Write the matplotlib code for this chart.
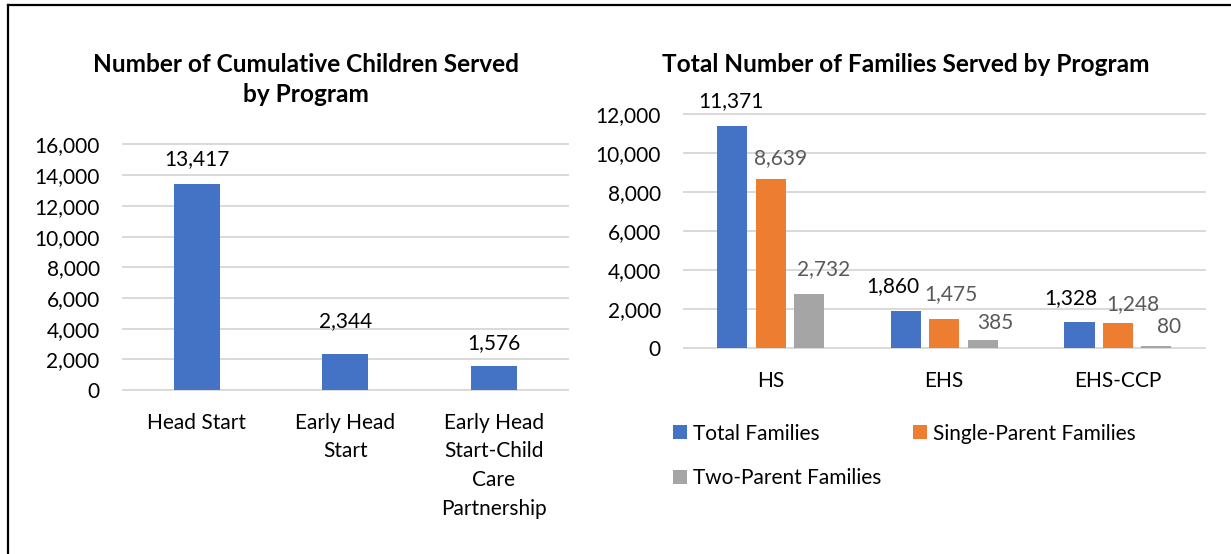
import matplotlib
matplotlib.use("Agg")
import matplotlib.pyplot as plt
import matplotlib.patches as mpatches
from matplotlib.lines import Line2D
from matplotlib.ticker import FuncFormatter
import numpy as np

plt.rcParams['font.family'] = ['Lato', 'DejaVu Sans']

# ---------------- data ----------------
children_categories = ['Head Start', 'Early Head\nStart', 'Early Head\nStart-Child\nCare\nPartnership']
children_values = [13417, 2344, 1576]
children_yticks = [0, 2000, 4000, 6000, 8000, 10000, 12000, 14000, 16000]

family_categories = ['HS', 'EHS', 'EHS-CCP']
total_families = [11371, 1860, 1328]
single_parent_families = [8639, 1475, 1248]
two_parent_families = [2732, 385, 80]
family_series_names = ['Total Families', 'Single-Parent Families', 'Two-Parent Families']
family_yticks = [0, 2000, 4000, 6000, 8000, 10000, 12000]

left_title = 'Number of Cumulative Children Served\nby Program'
right_title = 'Total Number of Families Served by Program'

# ---------------- style ----------------
W, H = 1231, 554
BLUE, ORANGE, GRAY = '#4472C4', '#ED7D31', '#A5A5A5'
GRID = '#D9D9D9'
DARK = '#000000'
LABEL_GRAY = '#595959'
FS = 15
TFS = 17.6
PX = 0.72  # points per pixel

fig = plt.figure(figsize=(W / 100, H / 100), dpi=100)
fig.patch.set_facecolor('white')

def fx(px):
    return px / W

def fy(py):
    return 1 - py / H

fmt = FuncFormatter(lambda v, p: f'{int(v):,}')

def style_axes(ax, yticks, xpad):
    ax.set_ylim(yticks[0], yticks[-1])
    ax.set_yticks(yticks)
    ax.yaxis.set_major_formatter(fmt)
    ax.grid(axis='y', color=GRID, linewidth=1.4)
    ax.set_axisbelow(True)
    for s in ax.spines.values():
        s.set_visible(False)
    ax.tick_params(axis='y', length=0, pad=16.5, labelsize=FS, labelcolor=DARK)
    ax.tick_params(axis='x', length=0, pad=xpad, labelsize=FS, labelcolor=DARK)
    for gl in ax.get_ygridlines():
        gl.set_clip_on(False)
    for lab in ax.get_xticklabels():
        lab.set_linespacing(1.54)

# ---------------- left chart ----------------
axL = fig.add_axes([fx(122.6), fy(390.1), (568.2 - 122.6) / W, (390.1 - 144.5) / H])
xl = np.arange(len(children_categories))
axL.bar(xl, children_values, width=0.31, color=BLUE)
axL.set_xlim(-0.5, len(children_categories) - 0.5)
axL.set_xticks(xl, labels=children_categories)
style_axes(axL, children_yticks, 16.2)
left_label_dy = [25, 33, 23]
for xi, v, dy in zip(xl, children_values, left_label_dy):
    axL.annotate(f'{v:,}', xy=(xi, v), xytext=(0, dy * PX), textcoords='offset points',
                 ha='center', va='center', fontsize=FS, color=DARK, annotation_clip=False)

fig.text(fx(306), fy(79.5), left_title, ha='center', va='center', fontsize=TFS,
         fontweight='bold', color=DARK, linespacing=1.4)

# ---------------- right chart ----------------
axR = fig.add_axes([fx(683.8), fy(347.7), (1204.7 - 683.8) / W, (347.7 - 114) / H])
xr = np.arange(len(family_categories))
series = [total_families, single_parent_families, two_parent_families]
colors = [BLUE, ORANGE, GRAY]
label_colors = [DARK, LABEL_GRAY, LABEL_GRAY]
offsets = [-0.221, 0.0, 0.221]
label_dx = [[-1, -12.6, -8.5], [10, 7, 15], [15, 13, 13]]
label_dy = [[25, 25, 24], [21, 25, 19], [25.6, 17, 19]]
handles = []
for vals, c, lc, off, dxs, dys, name in zip(series, colors, label_colors, offsets,
                                             label_dx, label_dy, family_series_names):
    axR.bar(xr + off, vals, width=0.173, color=c)
    handles.append(mpatches.Patch(facecolor=c, edgecolor='none', label=name))
    for xi, v, dx, dy in zip(xr, vals, dxs, dys):
        axR.annotate(f'{v:,}', xy=(xi + off, v), xytext=(dx * PX, dy * PX),
                     textcoords='offset points', ha='center', va='center',
                     fontsize=FS, color=lc, annotation_clip=False)
axR.set_xlim(-0.5, len(family_categories) - 0.5)
axR.set_xticks(xr, labels=family_categories)
style_axes(axR, family_yticks, 17.1)

fig.text(fx(906), fy(64.6), right_title, ha='center', va='center', fontsize=TFS,
         fontweight='bold', color=DARK)

leg = fig.legend(handles=[handles[0], handles[2], handles[1]],
                 labels=[family_series_names[0], family_series_names[2], family_series_names[1]],
                 ncol=2, loc='upper left', bbox_to_anchor=(fx(673.4), fy(423.5)),
                 frameon=False, fontsize=FS, handlelength=0.65, handleheight=0.65,
                 handletextpad=0.3, columnspacing=1.53, labelspacing=1.2,
                 borderpad=0, borderaxespad=0)
for t in leg.get_texts():
    t.set_color(DARK)

# ---------------- outer border (top and left) ----------------
fig.add_artist(Line2D([fx(7.5), 1.0], [fy(4.5), fy(4.5)], color='black', linewidth=1.6))
fig.add_artist(Line2D([fx(7.5), fx(7.5)], [fy(4.5), 0.0], color='black', linewidth=1.6))

fig.savefig('out.png', dpi=100, facecolor='white')
